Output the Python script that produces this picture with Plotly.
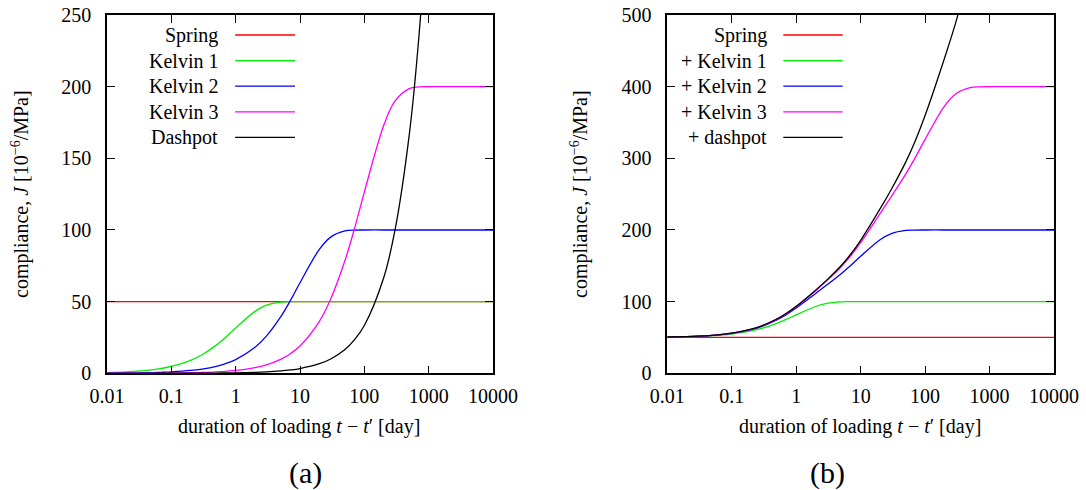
import numpy as np
import plotly.graph_objects as go
from plotly.subplots import make_subplots

# duration of loading [day]
t_days = [0.01, 0.02, 0.03, 0.05, 0.07,
          0.1, 0.2, 0.3, 0.5, 0.7,
          1, 2, 3, 5, 7,
          10, 20, 30, 50, 70,
          100, 200, 300, 500, 700,
          1000, 2000, 3000, 5000, 7000,
          10000]

# compliance contributions [1e-6/MPa]
spring = [50] * 31
kelvin1 = [0.50, 0.99, 1.48, 2.44, 3.38,
           4.76, 9.06, 12.96, 19.67, 25.17,
           31.61, 43.23, 47.51, 49.66, 49.95,
           50.0, 50, 50, 50, 50,
           50, 50, 50, 50, 50,
           50, 50, 50, 50, 50,
           50]
kelvin2 = [0.10, 0.20, 0.30, 0.50, 0.70,
           1.00, 1.98, 2.96, 4.88, 6.76,
           9.52, 18.13, 25.92, 39.35, 50.34,
           63.21, 86.47, 95.02, 99.33, 99.91,
           100, 100, 100, 100, 100,
           100, 100, 100, 100, 100,
           100]
kelvin3 = [0.02, 0.04, 0.06, 0.10, 0.14,
           0.20, 0.40, 0.60, 1.00, 1.40,
           1.99, 3.96, 5.91, 9.75, 13.52,
           19.03, 36.25, 51.84, 78.69, 100.68,
           126.42, 172.93, 190.04, 198.65, 199.82,
           199.99, 200, 200, 200, 200,
           200]
dashpot = [0.0033, 0.0067, 0.01, 0.0167, 0.0233,
           0.0333, 0.0667, 0.1, 0.167, 0.233,
           0.333, 0.667, 1.0, 1.667, 2.333,
           3.333, 6.667, 10.0, 16.67, 23.33,
           33.33, 66.67, 100.0, 166.7, 233.3,
           333.3, 666.7, 1000.0, 1666.7, 2333.3,
           3333.3]

names_a = ["Spring", "Kelvin 1", "Kelvin 2", "Kelvin 3", "Dashpot"]
names_b = ["Spring", "+ Kelvin 1", "+ Kelvin 2", "+ Kelvin 3", "+ dashpot"]
colors = ["#ff0000", "#00ee00", "#0000ff", "#ff00ff", "#000000"]
x_tickvals = [0.01, 0.1, 1, 10, 100, 1000, 10000]
x_ticktext = ["0.01", "0.1", "1", "10", "100", "1000", "10000"]

series_a = [spring, kelvin1, kelvin2, kelvin3, dashpot]
series_b = list(np.cumsum(np.array(series_a, dtype=float), axis=0))

FONT = "Liberation Serif"
W, H = 1086, 490

def px(xp):
    return xp / W

def py(yp):
    return 1 - yp / H

fig = make_subplots(rows=1, cols=2)

for i, ys in enumerate(series_a):
    fig.add_trace(go.Scatter(x=t_days, y=ys, mode="lines", name=names_a[i],
                             line=dict(color=colors[i], width=1.3, shape="spline", smoothing=1.0),
                             showlegend=False), row=1, col=1)
for i, ys in enumerate(series_b):
    fig.add_trace(go.Scatter(x=t_days, y=list(ys), mode="lines", name=names_b[i],
                             line=dict(color=colors[i], width=1.3, shape="spline", smoothing=1.0),
                             showlegend=False), row=1, col=2)

axis_common = dict(showline=True, linecolor="black", linewidth=1.5, mirror="ticks",
                   ticks="inside", ticklen=8, tickwidth=1.2, tickcolor="black",
                   showgrid=False, zeroline=False, automargin=False,
                   tickfont=dict(family=FONT, size=20, color="black"))

fig.update_xaxes(type="log", range=[-2, 4], tickvals=x_tickvals, ticktext=x_ticktext,
                 ticklabelstandoff=4, **axis_common)
fig.update_yaxes(ticklabelstandoff=10, **axis_common)
fig.update_xaxes(domain=[px(107), px(493)], row=1, col=1)
fig.update_xaxes(domain=[px(667.3), px(1054)], row=1, col=2)
fig.update_yaxes(domain=[py(373.3), py(15)], range=[0, 250], tickvals=[0, 50, 100, 150, 200, 250], row=1, col=1)
fig.update_yaxes(domain=[py(373.3), py(15)], range=[0, 500], tickvals=[0, 100, 200, 300, 400, 500], row=1, col=2)

annotations = []
shapes = []
legend_cfg = [("x domain", "y domain", names_a, 0.293, 0.332, 0.487),
              ("x2 domain", "y2 domain", names_b, 0.264, 0.300, 0.4536)]
row_y0 = 1 - (35 - 15) / 358.3
row_dy = 25.6 / 358.3
for xref, yref, names, tx, lx0, lx1 in legend_cfg:
    for i, nm in enumerate(names):
        yy = row_y0 - i * row_dy
        annotations.append(dict(text=nm, xref=xref, yref=yref, x=tx, y=yy,
                                xanchor="right", yanchor="middle", showarrow=False,
                                font=dict(family=FONT, size=20, color="black")))
        shapes.append(dict(type="line", xref=xref, yref=yref, x0=lx0, x1=lx1, y0=yy, y1=yy,
                           line=dict(color=colors[i], width=1.3)))

ytitle = "compliance, <i>J</i> [10<sup>−6</sup>/MPa]"
xtitle = "duration of loading <i>t</i> − <i>t</i>′ [day]"
for xc in (20, 579):
    annotations.append(dict(text=ytitle, xref="paper", yref="paper", x=px(xc), y=py(194),
                            xanchor="center", yanchor="middle", textangle=-90, showarrow=False,
                            font=dict(family=FONT, size=20, color="black")))
for xc in (299, 860):
    annotations.append(dict(text=xtitle, xref="paper", yref="paper", x=px(xc), y=py(426.7),
                            xanchor="center", yanchor="middle", showarrow=False,
                            font=dict(family=FONT, size=20, color="black")))
for lab, xc in (("(a)", 305), ("(b)", 827)):
    annotations.append(dict(text=lab, xref="paper", yref="paper", x=px(xc), y=py(473),
                            xanchor="center", yanchor="middle", showarrow=False,
                            font=dict(family=FONT, size=30, color="black")))

fig.update_layout(width=W, height=H, template="none",
                  margin=dict(l=0, r=0, t=0, b=0),
                  paper_bgcolor="white", plot_bgcolor="white",
                  annotations=annotations, shapes=shapes, showlegend=False)

fig.write_html("out.html")
